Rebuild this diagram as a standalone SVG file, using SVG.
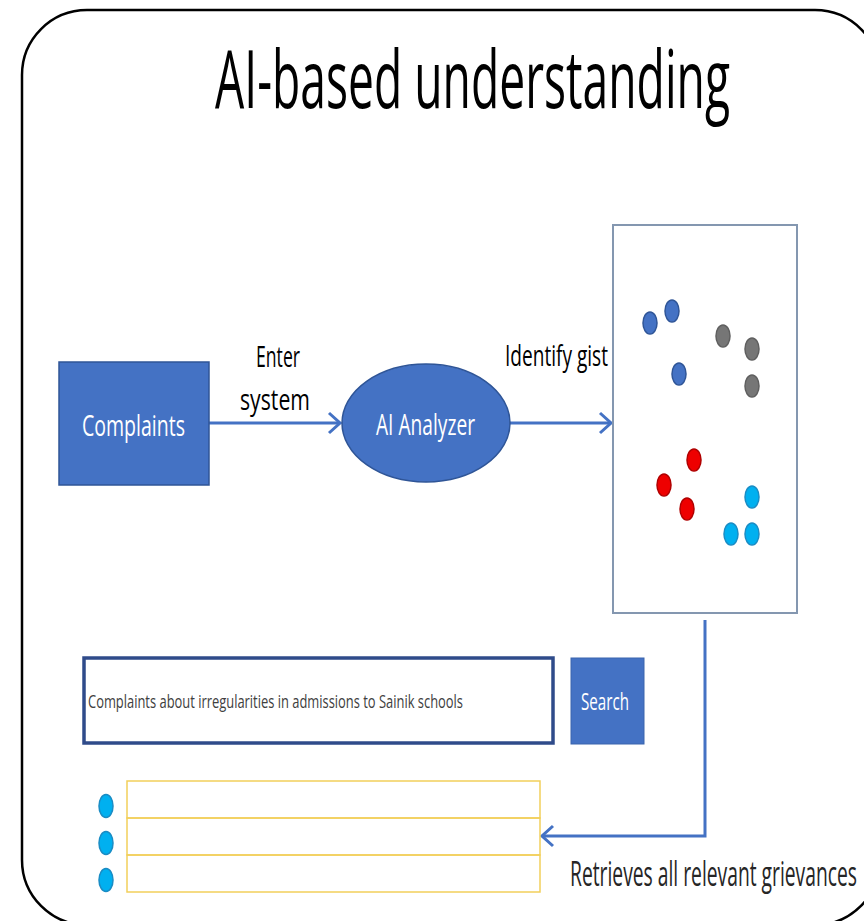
<svg xmlns="http://www.w3.org/2000/svg" width="864" height="921" viewBox="0 0 864 921">
<defs>
<style>
text{font-family:"Open Sans","Noto Sans","DejaVu Sans",sans-serif;}
.lbl{font-size:30px;fill:#000;}
.wt{font-size:30px;fill:#fff;}
.conn{fill:none;stroke:#4472c4;stroke-width:3;}
.blue{fill:#4472c4;stroke:#2f5597;stroke-width:1.5;}
.grey{fill:#767676;stroke:#5f5f5f;stroke-width:1.5;}
.red{fill:#ee0000;stroke:#b00000;stroke-width:1.5;}
.cyan{fill:#00b0f0;stroke:#1a8cc4;stroke-width:1.5;}
.row{fill:none;stroke:#f2cf5b;stroke-width:1.5;}
</style>
<marker id="arr" viewBox="-13 -12 15 24" markerWidth="15" markerHeight="24" refX="0" refY="0" orient="auto" markerUnits="userSpaceOnUse">
<path d="M-11,-10 L0,0 L-11,10" fill="none" stroke="#4472c4" stroke-width="3"/>
</marker>
</defs>
<rect width="864" height="921" fill="#fff"/>
<rect id="frame" x="22" y="10" width="858" height="915" rx="65" ry="65" fill="none" stroke="#000" stroke-width="2.5"/>
<text id="title" x="215" y="108" font-size="81" fill="#000" textLength="515" lengthAdjust="spacingAndGlyphs">AI-based understanding</text>

<g id="connectors">
<line class="conn" x1="209" y1="423" x2="340" y2="423" marker-end="url(#arr)"/>
<line class="conn" x1="510" y1="423" x2="611" y2="423" marker-end="url(#arr)"/>
<polyline class="conn" points="705,620 705,836 542,836" marker-end="url(#arr)"/>
<text class="lbl" x="256" y="367" textLength="44" lengthAdjust="spacingAndGlyphs">Enter</text>
<text class="lbl" x="240" y="410" textLength="70" lengthAdjust="spacingAndGlyphs">system</text>
<text class="lbl" x="505" y="366" textLength="103" lengthAdjust="spacingAndGlyphs">Identify gist</text>
<text x="570" y="886" font-size="35" fill="#262626" textLength="287" lengthAdjust="spacingAndGlyphs">Retrieves all relevant grievances</text>
</g>

<g id="complaints">
<rect x="59" y="362" width="150" height="123" fill="#4472c4" stroke="#2f5597" stroke-width="1.5"/>
<text class="wt" x="82" y="436" textLength="103" lengthAdjust="spacingAndGlyphs">Complaints</text>
</g>

<g id="analyzer">
<ellipse cx="426" cy="423" rx="84" ry="59" fill="#4472c4" stroke="#2f5597" stroke-width="1.5"/>
<text class="wt" x="376" y="435" textLength="99" lengthAdjust="spacingAndGlyphs">AI Analyzer</text>
</g>

<g id="clusters">
<rect x="613" y="225" width="184" height="388" fill="#fff" stroke="#8497b0" stroke-width="2"/>
<ellipse class="blue" cx="650" cy="323" rx="7" ry="11"/>
<ellipse class="blue" cx="672" cy="311" rx="7" ry="11"/>
<ellipse class="blue" cx="679" cy="374" rx="7" ry="11"/>
<ellipse class="grey" cx="723" cy="336" rx="7" ry="11"/>
<ellipse class="grey" cx="752" cy="349" rx="7" ry="11"/>
<ellipse class="grey" cx="752" cy="386" rx="7" ry="11"/>
<ellipse class="red" cx="694" cy="460" rx="7" ry="11"/>
<ellipse class="red" cx="664" cy="485" rx="7" ry="11"/>
<ellipse class="red" cx="687" cy="509" rx="7" ry="11"/>
<ellipse class="cyan" cx="752" cy="497" rx="7" ry="11"/>
<ellipse class="cyan" cx="731" cy="534" rx="7" ry="11"/>
<ellipse class="cyan" cx="752" cy="534" rx="7" ry="11"/>
</g>

<g id="searchbar">
<rect x="84" y="658" width="469" height="85" fill="#fff" stroke="#2f4b8a" stroke-width="3.5"/>
<text x="88" y="708" font-size="19" fill="#404040" textLength="375" lengthAdjust="spacingAndGlyphs">Complaints about irregularities in admissions to Sainik schools</text>
</g>

<g id="search">
<rect x="571" y="658" width="73" height="86" fill="#4472c4" stroke="#3b64ad" stroke-width="1"/>
<text x="581" y="710" font-size="24" fill="#fff" textLength="48" lengthAdjust="spacingAndGlyphs">Search</text>
</g>

<g id="results">
<rect class="row" x="127" y="781" width="413" height="37"/>
<rect class="row" x="127" y="818" width="413" height="37"/>
<rect class="row" x="127" y="855" width="413" height="37"/>
<ellipse class="cyan" cx="106" cy="806" rx="7" ry="11.5"/>
<ellipse class="cyan" cx="106" cy="843" rx="7" ry="11.5"/>
<ellipse class="cyan" cx="106" cy="880" rx="7" ry="11.5"/>
</g>
</svg>
